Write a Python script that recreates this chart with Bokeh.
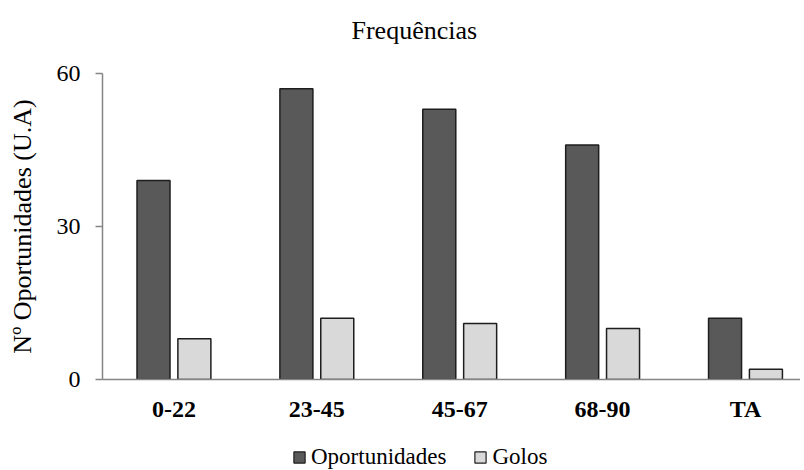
import numpy as np
from bokeh.plotting import figure
from bokeh.layouts import column
from bokeh.models import ColumnDataSource, Range1d, FixedTicker, Legend, LegendItem
from bokeh.embed import file_html
from bokeh.resources import INLINE

categories = ["0-22", "23-45", "45-67", "68-90", "TA"]
oportunidades = [39, 57, 53, 46, 12]
golos = [8, 12, 11, 10, 2]
y_ticks = [0, 30, 60]

FONT = "Liberation Serif"
DARK = "#595959"
LIGHT = "#d9d9d9"
EDGE = "#1e1e1e"
AXIS = "#858585"

pos = np.arange(len(categories))
src = ColumnDataSource(data=dict(x_op=pos - 0.143, x_go=pos + 0.143, op=oportunidades, go=golos))

p = figure(x_range=Range1d(-0.5, 4.385), y_range=Range1d(0, 60),
           width=800, height=426, output_backend="svg", toolbar_location=None,
           min_border_left=102, min_border_right=0, min_border_top=73, min_border_bottom=47)

p.vbar(x="x_op", top="op", width=0.231, source=src,
       fill_color=DARK, line_color=EDGE, line_width=1.5)
p.vbar(x="x_go", top="go", width=0.231, source=src,
       fill_color=LIGHT, line_color=EDGE, line_width=1.5)

p.title.text = "Frequências\n"
p.title.align = "left"
p.title.offset = 249
p.title.standoff = 0
p.title.text_font = FONT
p.title.text_font_size = "26px"
p.title.text_font_style = "normal"
p.title.text_color = "#000000"

p.xgrid.visible = False
p.ygrid.visible = False
p.outline_line_color = None

p.yaxis.ticker = FixedTicker(ticks=y_ticks)
p.yaxis.axis_label = "Nº Oportunidades (U.A)"
p.yaxis.axis_label_text_font = FONT
p.yaxis.axis_label_text_font_size = "26px"
p.yaxis.axis_label_text_font_style = "normal"
p.yaxis.axis_label_text_color = "#000000"
p.yaxis.axis_label_standoff = 17
p.yaxis.major_label_text_font = FONT
p.yaxis.major_label_text_font_size = "24px"
p.yaxis.major_label_text_color = "#000000"
p.yaxis.major_tick_out = 7
p.yaxis.major_tick_in = 0
p.yaxis.minor_tick_out = 0
p.yaxis.minor_tick_in = 0
p.yaxis.axis_line_color = AXIS
p.yaxis.major_tick_line_color = AXIS
p.yaxis.axis_line_width = 1.5
p.yaxis.major_tick_line_width = 1.5
p.yaxis.major_label_standoff = 15

p.xaxis.ticker = FixedTicker(ticks=list(pos))
p.xaxis.major_label_overrides = {int(i): c for i, c in zip(pos, categories)}
p.xaxis.major_label_text_font = FONT
p.xaxis.major_label_text_font_size = "24px"
p.xaxis.major_label_text_font_style = "bold"
p.xaxis.major_label_text_color = "#000000"
p.xaxis.major_tick_out = 0
p.xaxis.major_tick_in = 0
p.xaxis.minor_tick_out = 0
p.xaxis.minor_tick_in = 0
p.xaxis.major_tick_line_color = None
p.xaxis.minor_tick_line_color = None
p.xaxis.axis_line_color = AXIS
p.xaxis.axis_line_width = 1.5
p.xaxis.major_label_standoff = 16

# legend strip under the chart (frames of the column are aligned);
# its key renderers use the same data, but the strip's y range keeps them out of view (below)
lf = figure(width=800, height=44, output_backend="svg", toolbar_location=None,
            x_axis_type=None, y_axis_type=None,
            x_range=Range1d(-0.5, 4.385), y_range=Range1d(1000, 1001),
            min_border=0, min_border_left=0, min_border_right=0, min_border_top=0, min_border_bottom=0)
lf.outline_line_color = None
lf.xgrid.visible = False
lf.ygrid.visible = False
k1 = lf.vbar(x="x_op", top="op", width=0.231, source=src,
             fill_color=DARK, line_color=EDGE, line_width=1.2)
k2 = lf.vbar(x="x_go", top="go", width=0.231, source=src,
             fill_color=LIGHT, line_color=EDGE, line_width=1.2)
legend = Legend(items=[LegendItem(label="Oportunidades", renderers=[k1]),
                       LegendItem(label="Golos", renderers=[k2])],
                orientation="horizontal", location=(190, 0),
                label_text_font=FONT, label_text_font_size="23px",
                label_text_color="#000000",
                glyph_width=14, glyph_height=14, spacing=27, label_standoff=5,
                border_line_color=None, background_fill_alpha=0,
                margin=0, padding=0)
lf.add_layout(legend, "center")

layout = column(p, lf, spacing=0)
open("out.html", "w").write(file_html(layout, INLINE))
